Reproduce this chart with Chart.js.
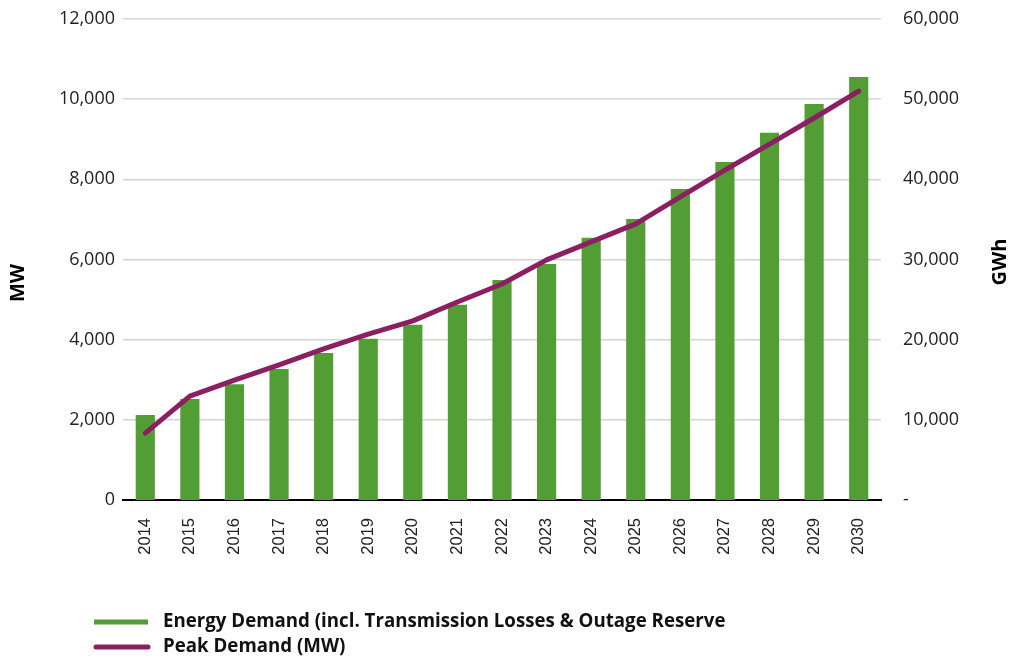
<!DOCTYPE html>
<html><head><meta charset="utf-8">
<script src="https://cdn.jsdelivr.net/npm/chart.js@4/dist/chart.umd.min.js"></script>
<style>html,body{margin:0;padding:0;background:#fff;}#wrap{position:relative;width:1011px;height:658px;}</style>
</head><body><div id="wrap"><canvas id="c" width="1011" height="658"></canvas></div>
<script>
const years = ['2014','2015','2016','2017','2018','2019','2020','2021','2022','2023','2024','2025','2026','2027','2028','2029','2030'];
const energyGWh = [10600,12600,14450,16350,18350,20100,21850,24350,27450,29450,32700,35050,38800,42150,45800,49400,52750];
const peakMW = [1670,2590,2990,3370,3770,4140,4470,4940,5390,5990,6440,6890,7560,8230,8880,9530,10200];
const energyLabel = 'Energy Demand (incl. Transmission Losses & Outage Reserve';
const peakLabel = 'Peak Demand (MW)';
const leftTitle = 'MW';
const rightTitle = 'GWh';

const GREEN = '#529E34';
const PURPLE = '#8C1F62';
const tickFont = {family:'Open Sans', size:18};

const overlay = {
  id:'overlay',
  afterDraw(chart){
    const ctx = chart.ctx;
    ctx.save();
    ctx.fillStyle = '#000';
    ctx.font = 'bold 20px "Open Sans"';
    ctx.textAlign = 'center'; ctx.textBaseline = 'middle';
    ctx.translate(18, 283); ctx.rotate(-Math.PI/2); ctx.fillText(leftTitle,0,0);
    ctx.restore();
    ctx.save();
    ctx.fillStyle = '#000';
    ctx.font = 'bold 20px "Open Sans"';
    ctx.textAlign = 'center'; ctx.textBaseline = 'middle';
    ctx.translate(1000, 262); ctx.rotate(-Math.PI/2); ctx.fillText(rightTitle,0,0);
    ctx.restore();
    // legend
    const items = [[energyLabel, GREEN, 'butt', 622],[peakLabel, PURPLE, 'round', 647]];
    ctx.save();
    ctx.font = 'bold 18.7px "Open Sans"';
    ctx.textAlign = 'left'; ctx.textBaseline = 'middle';
    items.forEach(([t,c,cap,y])=>{
      ctx.strokeStyle = c; ctx.lineWidth = 5; ctx.lineCap = cap;
      ctx.beginPath(); ctx.moveTo(cap==='round'?96:94, y); ctx.lineTo(148, y); ctx.stroke();
      ctx.fillStyle = '#111';
      ctx.fillText(t, 163, y);
    });
    ctx.restore();
  }
};

function fixV(w){ return s => { s.width = w; s.paddingTop = 0; s.paddingBottom = 0; }; }

new Chart(document.getElementById('c'), {
  data: {
    labels: years,
    datasets: [
      {type:'line', label: peakLabel, data: peakMW, yAxisID:'y', borderColor: PURPLE, borderWidth:5, pointRadius:0, borderCapStyle:'round', borderJoinStyle:'round', tension:0, order:0},
      {type:'bar', label: energyLabel, data: energyGWh, yAxisID:'y1', backgroundColor: GREEN, barPercentage:0.43, categoryPercentage:1.0, order:1}
    ]
  },
  options: {
    responsive:false, animation:false,
    layout:{padding:{left:0, right:0, top:19, bottom:0}},
    plugins:{legend:{display:false}, tooltip:{enabled:false}},
    scales:{
      x:{grid:{display:false, drawTicks:false}, border:{color:'#000', width:2},
         afterFit: s => { s.height = 158; s.paddingLeft = 0; s.paddingRight = 0; },
         ticks:{font:{family:'Liberation Sans', size:16.5}, color:'#222', maxRotation:90, minRotation:90, padding:18, autoSkip:false}},
      y:{position:'left', min:0, max:12000, grid:{color:'#d4d4d4', lineWidth:1.5, drawTicks:false}, border:{display:false},
         afterFit: fixV(123),
         ticks:{stepSize:2000, font:tickFont, color:'#222', padding:8, callback:v=>v.toLocaleString('en-US')}},
      y1:{position:'right', min:0, max:60000, grid:{display:false, drawTicks:false}, border:{display:false},
         afterFit: fixV(130),
         ticks:{stepSize:10000, font:tickFont, color:'#222', padding:22, callback:v=>v===0?'-':v.toLocaleString('en-US')}}
    }
  },
  plugins:[overlay]
});
</script></body></html>
